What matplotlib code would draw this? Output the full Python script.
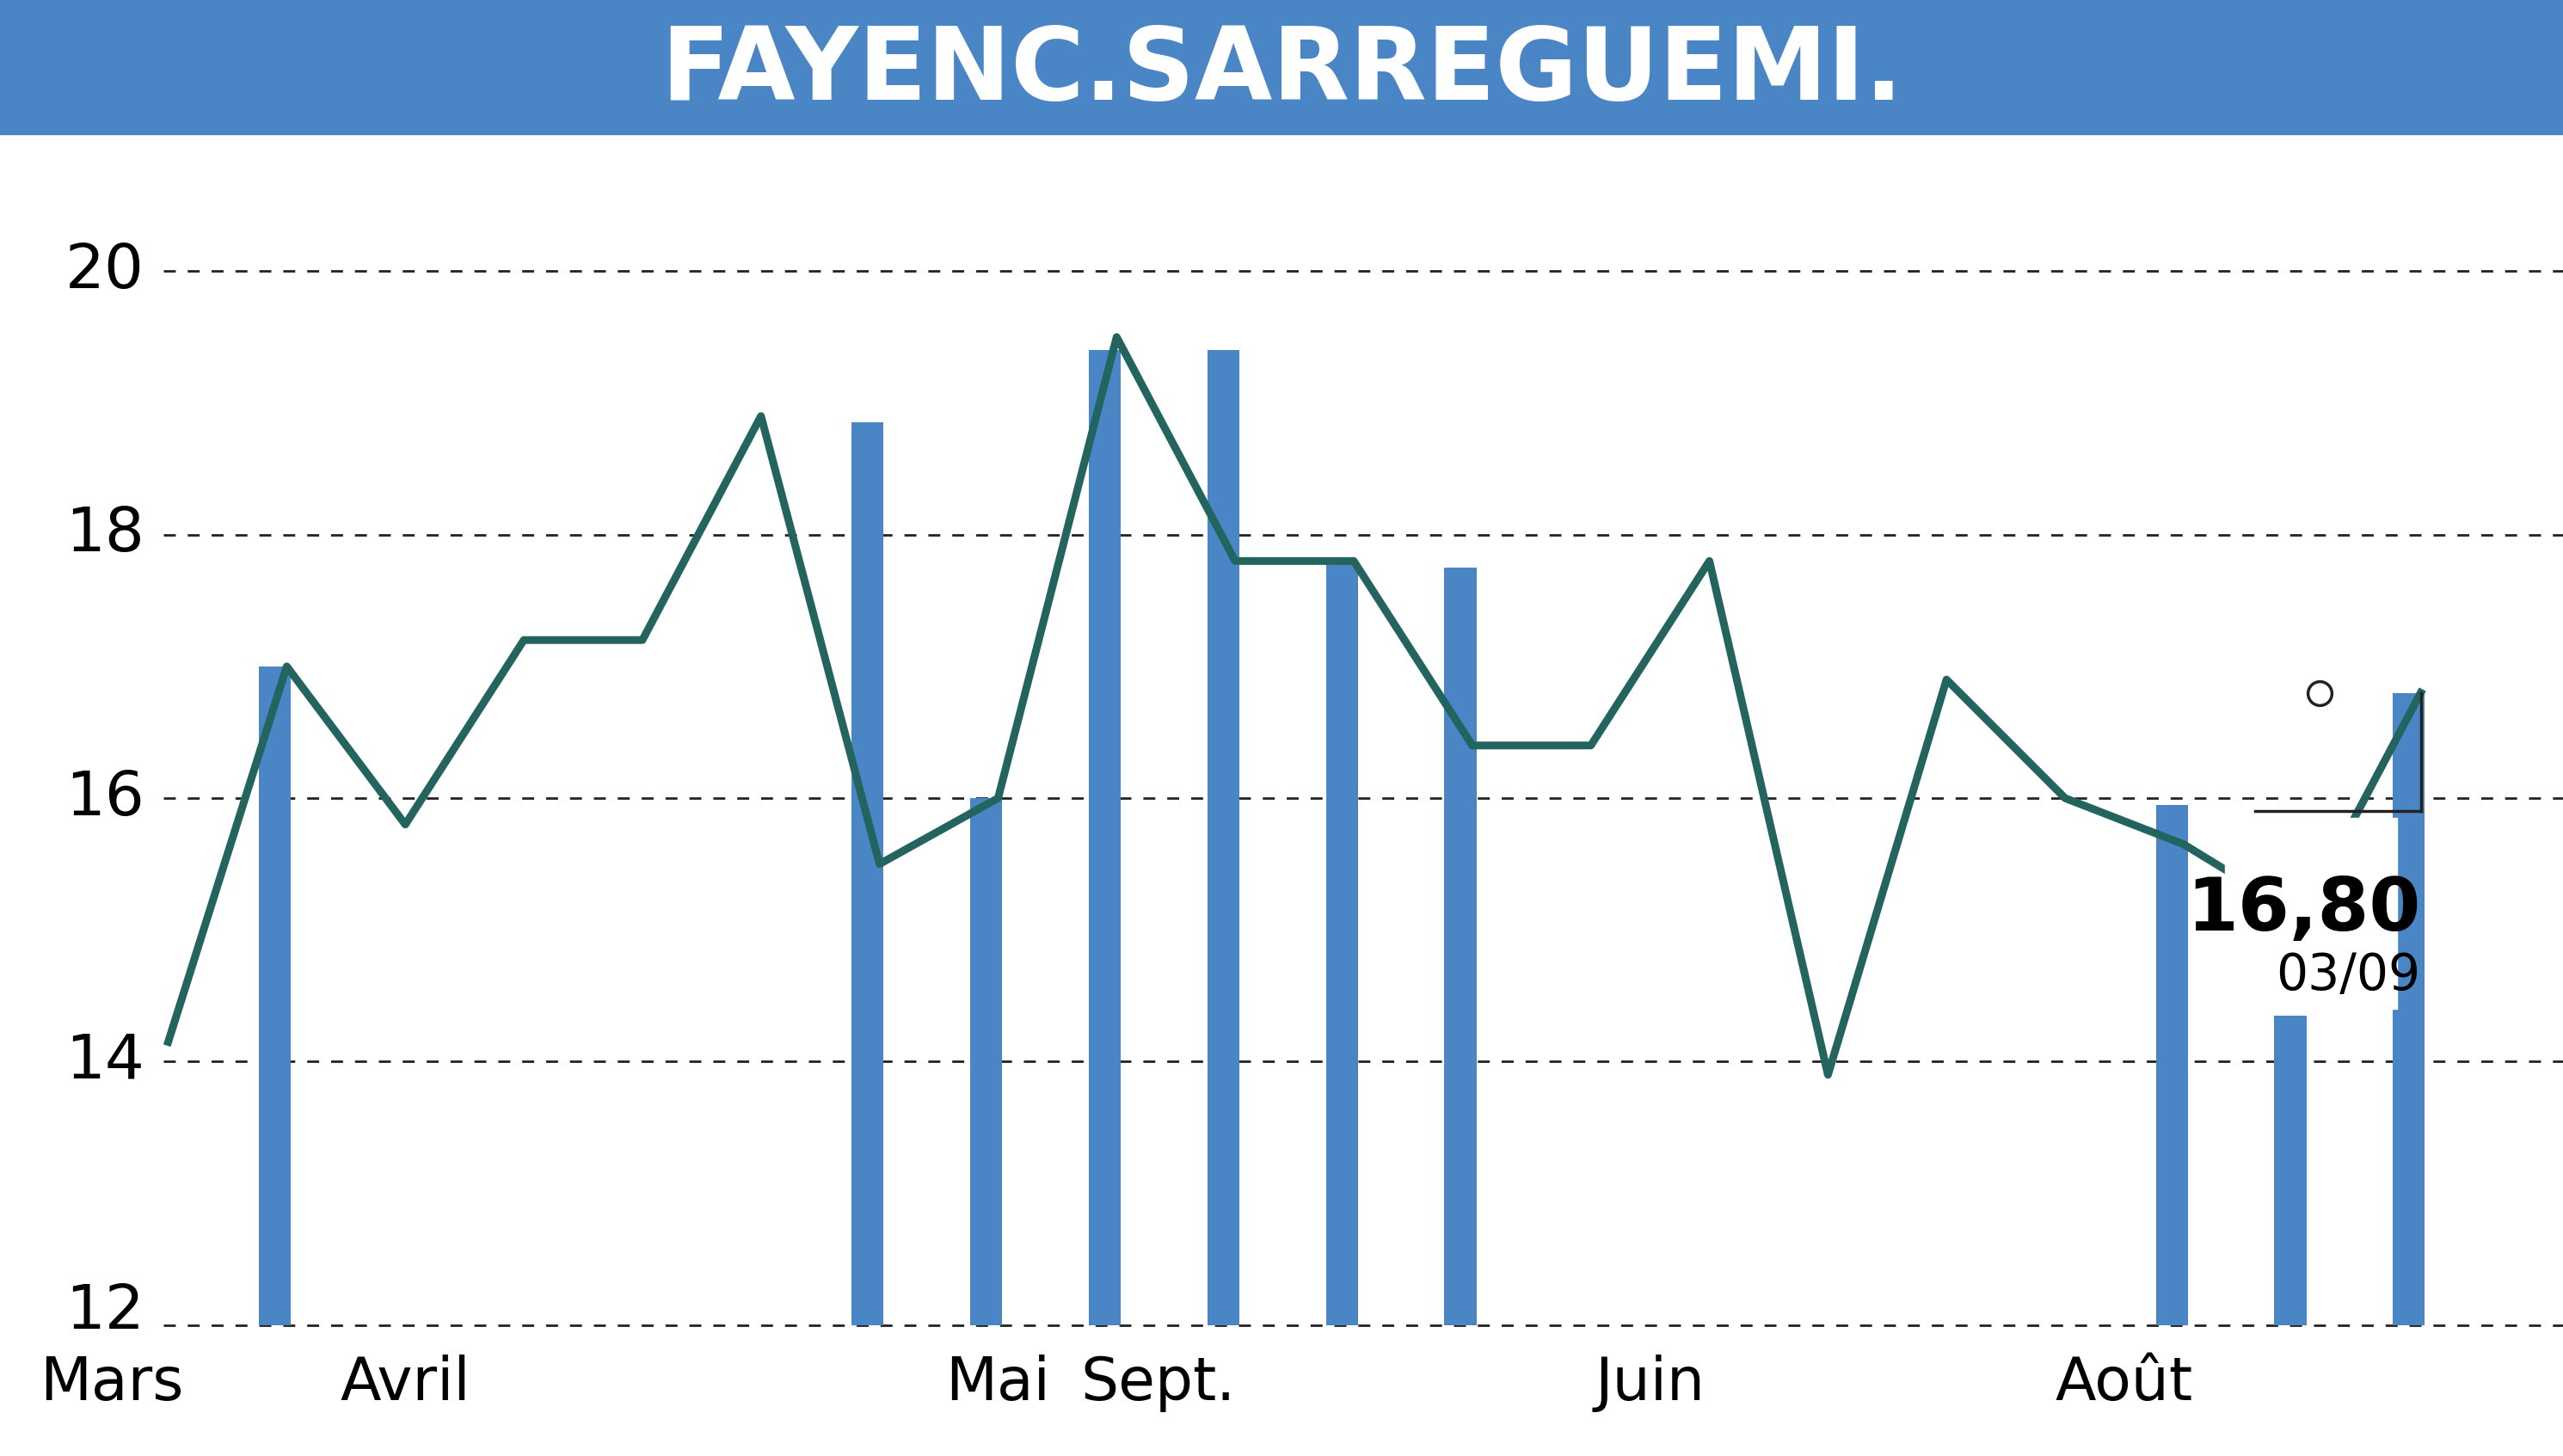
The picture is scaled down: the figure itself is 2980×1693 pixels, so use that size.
import matplotlib
matplotlib.use("Agg")
import matplotlib.pyplot as plt
from matplotlib.patches import Rectangle

prices = [14.15, 17.0, 15.8, 17.2, 17.2, 18.9, 15.5, 16.0, 19.5, 17.8, 17.8, 16.4, 16.4, 17.8, 13.9, 16.9, 16.0, 15.65, 15.1, 16.8]
bar_idx = [0.9, 5.9, 6.9, 7.9, 8.9, 9.9, 10.9, 16.9, 17.9, 18.9]
bar_top = [17.0, 18.85, 16.0, 19.4, 19.4, 17.8, 17.75, 15.95, 14.35, 16.8]
month_labels = ["Mars", "Avril", "Mai", "Sept.", "Juin", "Août"]
month_pos = [-0.48, 2.0, 7.0, 8.35, 12.5, 16.5]
yticks = [12, 14, 16, 18, 20]

fam = ["DejaVu Sans"]
W, H = 1568, 890
fig = plt.figure(figsize=(29.8, 16.93), dpi=100)
ax = fig.add_axes([100/W, 1-810/H, 1-100/W, (810-82)/H])
ax.set_xlim(-0.04, 20.2)
ax.set_ylim(12, 21.04)
blue = "#4a86c5"
ax.bar(bar_idx, [t-12 for t in bar_top], bottom=12, width=0.27, color=blue, zorder=1)
ax.plot(range(len(prices)), prices, color="#23645f", lw=6.5, zorder=3)
for y in yticks[1:]:
    ax.axhline(y, color="#222222", lw=2, ls=(0, (5, 5)), zorder=0)
ax.axhline(12, color="#222222", lw=2, ls=(0, (5, 5)), zorder=0, clip_on=False)
for s in ax.spines.values():
    s.set_visible(False)
ax.set_xticks([]); ax.set_yticks([])
for y in yticks:
    ax.text(-0.2, y + (0.1 if y == 12 else 0), str(y), ha="right", va="center", fontsize=52, family=fam, clip_on=False)
for lbl, p in zip(month_labels, month_pos):
    ax.text(p, 11.78, lbl, ha="center", va="top", fontsize=50, family=fam, clip_on=False)
# label box
ax.add_patch(Rectangle((17.35, 14.4), 1.45, 1.45, color="white", zorder=4))
ax.plot([17.6, 19.0], [15.9, 15.9], color="#222222", lw=2.5, zorder=5)
ax.plot([19.0, 19.0], [15.9, 16.8], color="#222222", lw=2.5, zorder=5)
ax.plot([18.15], [16.8], marker="o", ms=20, mfc="white", mec="#222222", mew=2.5, zorder=5)
ax.text(19.0, 15.15, "16,80", ha="right", va="center", fontsize=62, fontweight="bold", family=fam, zorder=6)
ax.text(19.0, 14.65, "03/09", ha="right", va="center", fontsize=42, family=fam, zorder=6)
# title band
fig.patches.append(Rectangle((0, 1-82/H), 1, 82/H, transform=fig.transFigure, color=blue))
fig.text(0.5, 1-44/H, "FAYENC.SARREGUEMI.", ha="center", va="center", color="white",
         fontsize=84, fontweight="bold", family=fam)
fig.savefig("out.png", dpi=100)
